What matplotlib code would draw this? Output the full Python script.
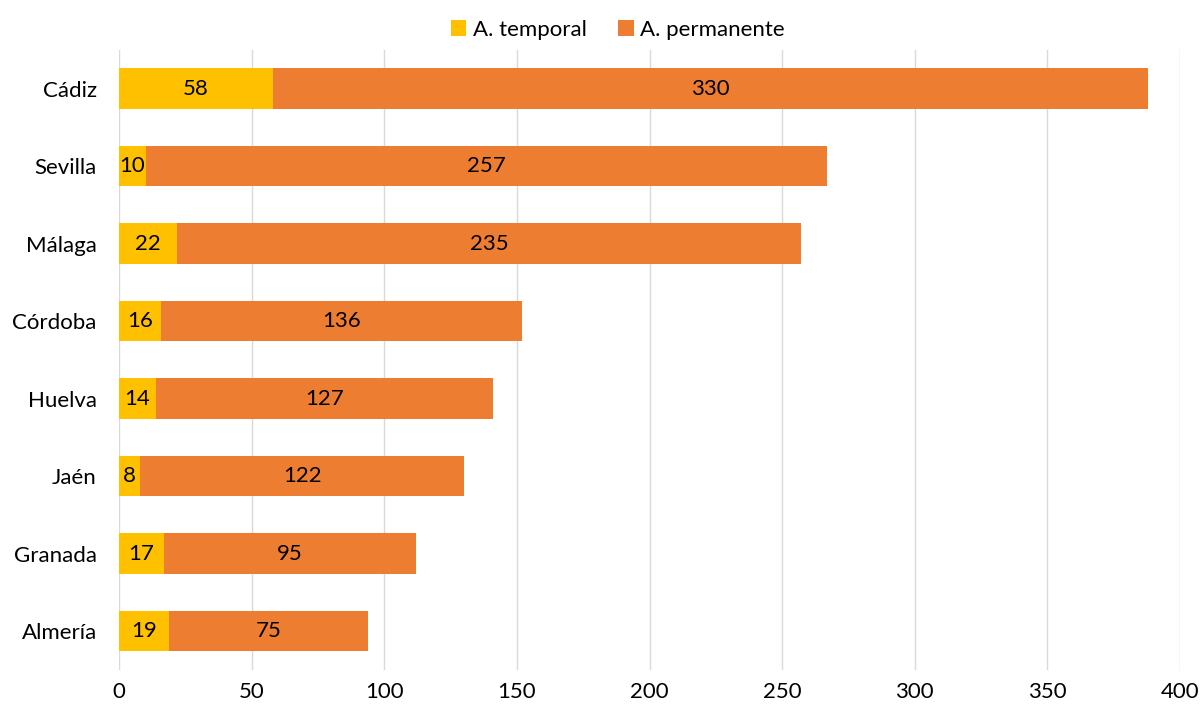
import matplotlib.pyplot as plt
import numpy as np

provincias = ['Cádiz', 'Sevilla', 'Málaga', 'Córdoba', 'Huelva', 'Jaén', 'Granada', 'Almería']
temporal = [58, 10, 22, 16, 14, 8, 17, 19]
permanente = [330, 257, 235, 136, 127, 122, 95, 75]

plt.rcParams['font.family'] = ['Lato', 'DejaVu Sans']

fig = plt.figure(figsize=(12.02, 7.11), dpi=100)
ax = fig.add_axes([0.099, 0.058, 0.8827, 0.872])

y = np.arange(len(provincias))
b1 = ax.barh(y, temporal, height=0.52, color='#FFC000', label='A. temporal', zorder=3)
b2 = ax.barh(y, permanente, left=temporal, height=0.52, color='#ED7D31', label='A. permanente', zorder=3)

# etiquetas de valor centradas en cada tramo
for i in range(len(provincias)):
    ax.text(temporal[i] / 2, y[i], str(temporal[i]), ha='center', va='center', fontsize=16, color='black', zorder=4)
    ax.text(temporal[i] + permanente[i] / 2, y[i], str(permanente[i]), ha='center', va='center', fontsize=16, color='black', zorder=4)

ax.set_xlim(0, 400)
ax.set_ylim(len(provincias) - 0.5, -0.5)
ax.set_yticks(y)
ax.set_yticklabels(provincias)
ax.set_xticks(range(0, 401, 50))
ax.tick_params(axis='y', length=0, labelsize=16, pad=16)
ax.tick_params(axis='x', length=0, labelsize=16, pad=9)
ax.grid(axis='x', color='#D9D9D9', linewidth=1, zorder=0)
for s in ax.spines.values():
    s.set_visible(False)

fig.legend(handles=[b1, b2], loc='upper center', bbox_to_anchor=(0.514, 1.0), ncol=2,
           frameon=False, fontsize=16, handlelength=0.7, handleheight=0.7, handletextpad=0.3, columnspacing=1.4)

fig.savefig('out.png', dpi=100)
